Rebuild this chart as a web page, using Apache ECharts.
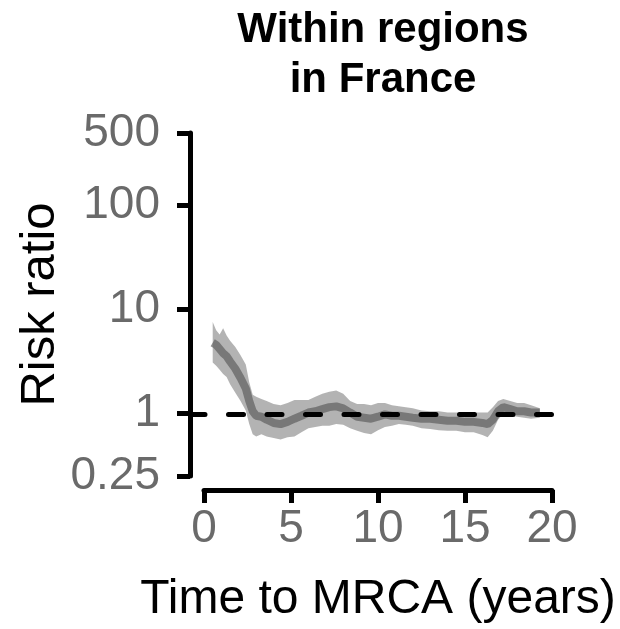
<!DOCTYPE html>
<html>
<head>
<meta charset="utf-8">
<script src="https://cdn.jsdelivr.net/npm/echarts@6/dist/echarts.min.js"></script>
<style>
  html, body { margin: 0; padding: 0; background: #fff; }
  #main { width: 620px; height: 629px; }
</style>
</head>
<body>
<div id="main"></div>
<script>
// time to MRCA (years)
const years = [0.5, 0.7, 0.9, 1.1, 1.3, 1.5, 1.8, 2.1, 2.4, 2.6, 2.8, 3.0, 3.3, 3.6, 4.0, 4.4, 4.8,
  5.2, 5.6, 6.0, 6.4, 6.8, 7.2, 7.6, 8.0, 8.4, 8.8, 9.2, 9.6, 10.0, 10.4, 10.8, 11.2, 11.6, 12.0,
  12.5, 13.0, 13.5, 14.0, 14.5, 15.0, 15.5, 16.0, 16.3, 16.6, 16.9, 17.2, 17.6, 18.0, 18.4, 18.8, 19.3];
// risk ratio estimate
const ratio = [4.79, 4.57, 4.17, 3.80, 3.55, 3.16, 2.69, 2.19, 1.74, 1.32, 1.05, 0.95, 0.93, 0.87, 0.81, 0.79, 0.83,
  0.89, 0.95, 1.02, 1.05, 1.10, 1.15, 1.17, 1.12, 1.02, 0.93, 0.91, 0.89, 0.93, 0.98, 0.95, 0.95, 0.93, 0.91,
  0.89, 0.89, 0.87, 0.85, 0.85, 0.83, 0.83, 0.81, 0.79, 0.87, 1.05, 1.15, 1.10, 1.05, 1.05, 1.02, 1.02];
// 95% interval
const lower = [3.09, 2.88, 2.63, 2.40, 2.24, 1.91, 1.58, 1.32, 1.07, 0.79, 0.63, 0.60, 0.63, 0.60, 0.58, 0.56, 0.59,
  0.60, 0.66, 0.72, 0.74, 0.76, 0.76, 0.79, 0.78, 0.72, 0.68, 0.65, 0.63, 0.69, 0.74, 0.76, 0.79, 0.78, 0.76,
  0.72, 0.71, 0.69, 0.68, 0.68, 0.66, 0.66, 0.62, 0.59, 0.68, 0.87, 1.00, 0.95, 0.93, 0.91, 0.89, 0.91];
const upper = [7.59, 6.31, 5.75, 6.61, 5.62, 5.01, 4.37, 3.63, 2.95, 2.00, 1.51, 1.45, 1.38, 1.32, 1.23, 1.20, 1.26,
  1.35, 1.35, 1.35, 1.45, 1.55, 1.62, 1.66, 1.55, 1.32, 1.23, 1.23, 1.20, 1.26, 1.26, 1.20, 1.17, 1.15, 1.12,
  1.07, 1.05, 1.05, 1.02, 1.02, 1.02, 1.02, 1.02, 1.02, 1.15, 1.32, 1.38, 1.32, 1.26, 1.26, 1.20, 1.12];
const yTicks = [0.25, 1, 10, 100, 500];
const xTicks = [0, 5, 10, 15, 20];

const lg = v => Math.log10(v);
const yMin = lg(yTicks[0]), yMax = lg(yTicks[yTicks.length - 1]);

const chart = echarts.init(document.getElementById('main'));

const labelGray = '#6a6a6a';
const font = 'Liberation Sans, Arial, sans-serif';

// the interval band as one polygon, placed through the axes
function renderBand(params, api) {
  if (params.dataIndex !== 0) return null;
  const top = years.map((x, i) => api.coord([x, lg(upper[i])]));
  const bottom = years.map((x, i) => api.coord([x, lg(lower[i])])).reverse();
  return {
    type: 'polygon',
    shape: { points: top.concat(bottom) },
    style: { fill: 'rgba(128,128,128,0.6)' }
  };
}

const option = {
  animation: false,
  title: {
    text: 'Within regions\nin France',
    left: 378,
    textAlign: 'center',
    top: 0,
    textStyle: { fontFamily: font, fontSize: 42, fontWeight: 'bold', color: '#000', lineHeight: 50 }
  },
  grid: [
    { left: 204, right: 68, top: 133, bottom: 152 },
    { left: 190, right: 68, top: 133, bottom: 152 } // for the reference line
  ],
  xAxis: [{
    type: 'value', gridIndex: 0, min: xTicks[0], max: xTicks[xTicks.length - 1], interval: 5,
    offset: 14,
    splitLine: { show: false },
    axisLine: { onZero: false, lineStyle: { color: '#000', width: 5 } },
    axisTick: { length: 13, lineStyle: { color: '#000', width: 5 } },
    axisLabel: { fontFamily: font, fontSize: 46, color: labelGray, margin: 16 },
    name: 'Time to MRCA (years)',
    nameLocation: 'middle',
    nameGap: 86,
    nameTextStyle: { fontFamily: font, fontSize: 48, color: '#000' }
  }, {
    type: 'value', gridIndex: 1, min: 0, max: 1, show: false
  }],
  yAxis: [{
    type: 'value', gridIndex: 0, min: yMin, max: yMax,
    offset: 14,
    splitLine: { show: false },
    axisLine: { show: true, onZero: false, lineStyle: { color: '#000', width: 5 } },
    axisTick: { show: true, length: 13, customValues: yTicks.map(lg), lineStyle: { color: '#000', width: 5 } },
    axisLabel: {
      fontFamily: font, fontSize: 46, color: labelGray, margin: 30,
      customValues: yTicks.map(lg),
      formatter: v => String(yTicks.reduce((a, b) => Math.abs(lg(b) - v) < Math.abs(lg(a) - v) ? b : a))
    },
    name: 'Risk ratio',
    nameLocation: 'middle',
    nameMoveOverlap: false,
    nameGap: 125,
    nameTextStyle: { fontFamily: font, fontSize: 49, color: '#000' }
  }, {
    type: 'value', gridIndex: 1, min: yMin, max: yMax, show: false
  }],
  series: [
    {
      type: 'line', xAxisIndex: 1, yAxisIndex: 1, data: [], z: 1,
      markLine: {
        silent: true, symbol: 'none', animation: false,
        label: { show: false },
        lineStyle: { color: '#000', width: 5, type: [15, 23.5], cap: 'round' },
        data: [{ yAxis: 0 }]
      }
    },
    {
      type: 'custom', z: 2, silent: true,
      renderItem: renderBand,
      data: years.map((x, i) => [x, lg(lower[i]), lg(upper[i])]),
      encode: { x: 0, y: [1, 2] }
    },
    {
      type: 'line', symbol: 'none', z: 3,
      lineStyle: { color: 'rgba(95,95,95,0.7)', width: 8 },
      data: years.map((x, i) => [x, lg(ratio[i])])
    }
  ]
};

chart.setOption(option);
</script>
</body>
</html>
